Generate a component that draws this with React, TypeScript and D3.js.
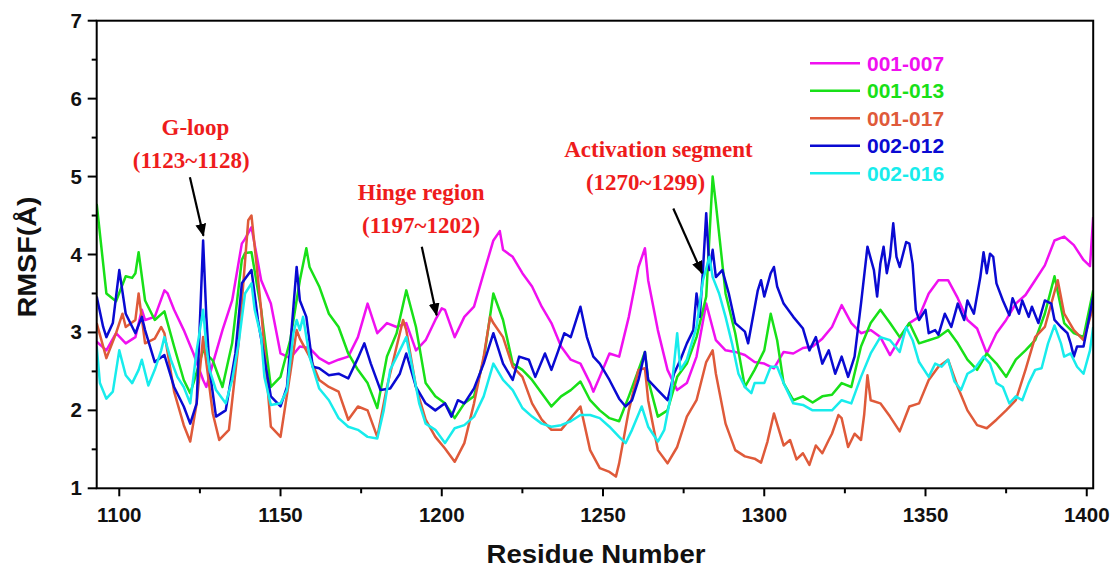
import React from "react";
import * as d3 from "d3";

type Pt = [number, number];

const seriesNames = ["001-007", "001-013", "001-017", "002-012", "002-016"];
const seriesColors = ["#f010f0", "#18e018", "#df5a3a", "#0a0ad2", "#18ecec"];

const s001_007: Pt[] = [[1093,2.88],[1096,2.77],[1099,2.99],[1102,2.86],[1105,2.94],[1107,3.29],[1108,3.16],[1111,3.2],[1114,3.54],[1115,3.5],[1117,3.29],[1120,3.03],[1123,2.73],[1126,2.39],[1127,2.3],[1129,2.6],[1132,3.03],[1135,3.41],[1138,4.14],[1139,4.2],[1141,4.35],[1144,3.67],[1147,3.37],[1150,2.73],[1153,2.67],[1156,2.82],[1159,2.8],[1162,2.67],[1165,2.6],[1168,2.65],[1171,2.69],[1174,2.94],[1177,3.37],[1180,2.99],[1183,3.12],[1186,3.07],[1189,3.12],[1192,2.77],[1195,2.9],[1198,3.16],[1200,3.31],[1201,3.29],[1204,2.94],[1207,3.2],[1210,3.33],[1213,3.76],[1216,4.18],[1218,4.3],[1219,4.06],[1222,3.97],[1225,3.76],[1228,3.59],[1231,3.33],[1234,3.12],[1237,2.82],[1240,2.65],[1243,2.6],[1246,2.35],[1247,2.24],[1249,2.43],[1252,2.73],[1255,2.69],[1258,3.2],[1261,3.84],[1263,4.08],[1264,3.67],[1267,3.03],[1270,2.52],[1273,2.26],[1276,2.35],[1279,2.69],[1282,3.37],[1285,2.9],[1288,2.77],[1291,2.75],[1294,2.71],[1297,2.62],[1300,2.6],[1303,2.54],[1306,2.75],[1309,2.73],[1312,2.8],[1315,2.82],[1318,2.92],[1321,3.07],[1324,3.35],[1327,3.12],[1330,2.99],[1333,3.03],[1336,2.94],[1339,2.71],[1342,2.92],[1345,3.12],[1348,3.2],[1351,3.5],[1354,3.67],[1357,3.67],[1360,3.44],[1363,3.16],[1366,3.05],[1369,2.73],[1372,2.99],[1375,3.16],[1378,3.37],[1381,3.48],[1384,3.67],[1387,3.86],[1390,4.18],[1393,4.23],[1396,4.12],[1399,3.93],[1401,3.85],[1402,4.48]];

const s001_013: Pt[] = [[1093,4.65],[1096,3.5],[1099,3.4],[1102,3.72],[1104,3.7],[1105,3.76],[1106,4.03],[1108,3.41],[1111,3.16],[1114,3.27],[1117,2.82],[1120,2.39],[1122,2.22],[1123,2.35],[1126,2.77],[1129,2.64],[1132,2.3],[1135,2.86],[1138,3.93],[1139,4.02],[1141,4.03],[1144,3.29],[1147,2.3],[1150,2.43],[1153,2.9],[1156,3.67],[1158,4.08],[1159,3.84],[1162,3.59],[1165,3.24],[1168,3.07],[1171,2.73],[1174,2.52],[1177,2.35],[1180,2.03],[1183,2.69],[1186,2.99],[1189,3.54],[1192,3.07],[1195,2.35],[1198,2.18],[1201,2.09],[1204,1.9],[1207,2.09],[1210,2.18],[1213,2.65],[1216,3.5],[1219,3.16],[1222,2.6],[1225,2.52],[1228,2.39],[1231,2.22],[1234,2.05],[1237,2.18],[1240,2.26],[1243,2.37],[1246,2.13],[1249,2.0],[1252,1.9],[1255,1.86],[1258,2.18],[1261,2.52],[1263,2.75],[1264,2.39],[1267,1.92],[1270,2.0],[1273,2.43],[1276,2.6],[1279,2.94],[1282,3.46],[1284,5.0],[1285,4.65],[1288,3.5],[1291,2.99],[1294,2.3],[1297,2.52],[1300,2.77],[1302,3.24],[1304,2.9],[1306,2.35],[1309,2.13],[1312,2.18],[1315,2.1],[1318,2.18],[1321,2.2],[1324,2.35],[1327,2.3],[1330,2.82],[1333,3.12],[1336,3.29],[1339,3.12],[1342,2.94],[1345,3.12],[1348,2.86],[1351,2.9],[1354,2.94],[1357,3.03],[1360,2.86],[1363,2.65],[1366,2.52],[1369,2.73],[1372,2.6],[1375,2.43],[1378,2.65],[1381,2.77],[1384,2.9],[1387,3.24],[1390,3.72],[1393,3.12],[1396,2.99],[1399,2.94],[1402,3.54]];

const s001_017: Pt[] = [[1093,3.12],[1096,2.67],[1099,2.99],[1101,3.24],[1102,3.07],[1105,3.16],[1106,3.5],[1108,2.86],[1111,2.92],[1113,3.07],[1114,2.99],[1117,2.24],[1120,1.81],[1122,1.6],[1124,2.09],[1126,2.94],[1129,1.96],[1131,1.62],[1134,1.75],[1137,2.86],[1140,4.44],[1141,4.5],[1144,3.29],[1147,1.79],[1150,1.66],[1153,2.47],[1155,3.03],[1156,2.92],[1159,2.69],[1162,2.39],[1165,2.3],[1168,2.24],[1171,1.88],[1174,2.05],[1177,2.0],[1180,1.66],[1183,2.3],[1186,2.82],[1188,3.16],[1189,3.03],[1192,2.3],[1195,1.88],[1198,1.66],[1201,1.51],[1204,1.34],[1207,1.58],[1210,2.09],[1213,2.69],[1215,3.2],[1216,3.12],[1219,2.94],[1222,2.56],[1225,2.43],[1228,2.09],[1231,1.88],[1234,1.75],[1237,1.75],[1240,1.9],[1243,2.05],[1246,1.49],[1249,1.26],[1252,1.21],[1254,1.15],[1255,1.32],[1258,2.0],[1261,2.52],[1263,2.54],[1264,2.13],[1267,1.49],[1270,1.32],[1273,1.53],[1276,1.92],[1279,2.13],[1282,2.62],[1284,2.77],[1285,2.47],[1288,1.83],[1291,1.49],[1294,1.41],[1297,1.38],[1299,1.33],[1301,1.6],[1303,1.96],[1306,1.55],[1308,1.62],[1310,1.37],[1312,1.45],[1314,1.3],[1316,1.55],[1318,1.45],[1320,1.62],[1321,1.7],[1323,1.94],[1324,1.9],[1326,1.53],[1328,1.7],[1330,1.62],[1331,1.95],[1332,2.45],[1333,2.13],[1336,2.09],[1339,1.92],[1342,1.73],[1345,2.05],[1348,2.09],[1351,2.39],[1354,2.56],[1357,2.65],[1360,2.3],[1363,2.0],[1366,1.81],[1369,1.77],[1372,1.88],[1375,2.0],[1378,2.13],[1381,2.52],[1384,2.94],[1387,3.07],[1391,3.67],[1393,3.24],[1396,3.03],[1399,2.9],[1402,3.33]];

const s002_012: Pt[] = [[1093,3.46],[1095,3.07],[1096,2.94],[1098,3.12],[1100,3.8],[1102,3.24],[1105,2.99],[1107,3.2],[1108,3.03],[1111,2.62],[1114,2.71],[1117,2.3],[1120,2.05],[1122,1.83],[1124,2.09],[1126,4.18],[1127,3.2],[1128,2.52],[1130,1.92],[1133,2.0],[1136,2.73],[1138,3.63],[1141,3.8],[1143,3.16],[1147,2.18],[1150,2.05],[1152,2.3],[1155,3.84],[1156,3.41],[1158,3.2],[1160,2.56],[1162,2.54],[1165,2.45],[1168,2.47],[1171,2.41],[1174,2.67],[1176,2.86],[1178,2.6],[1181,2.26],[1184,2.28],[1187,2.47],[1189,2.73],[1192,2.3],[1195,2.09],[1198,2.0],[1201,2.09],[1203,1.92],[1205,2.13],[1207,2.09],[1210,2.28],[1213,2.6],[1216,2.99],[1219,2.6],[1222,2.39],[1224,2.69],[1227,2.65],[1229,2.43],[1232,2.73],[1234,2.52],[1236,2.75],[1238,2.99],[1240,2.94],[1243,3.33],[1245,2.94],[1247,2.69],[1249,2.6],[1252,2.39],[1255,2.15],[1257,2.05],[1259,2.13],[1261,2.39],[1263,2.75],[1264,2.39],[1267,2.26],[1270,2.13],[1272,2.47],[1274,2.65],[1276,2.86],[1278,3.03],[1279,3.5],[1280,3.2],[1281,3.8],[1282,4.53],[1283,3.8],[1284,4.06],[1285,3.71],[1287,3.8],[1289,3.5],[1291,3.12],[1294,3.01],[1295,2.86],[1298,3.54],[1299,3.67],[1300,3.46],[1302,3.76],[1303,3.84],[1304,3.59],[1306,3.37],[1309,3.2],[1312,3.05],[1314,2.77],[1316,2.94],[1318,2.6],[1320,2.77],[1322,2.47],[1324,2.69],[1326,2.43],[1328,2.69],[1330,3.37],[1332,4.1],[1334,3.8],[1335,3.46],[1336,3.88],[1337,4.1],[1338,3.76],[1339,3.97],[1340,4.4],[1341,3.97],[1342,3.84],[1344,4.16],[1345,4.14],[1346,3.88],[1347,3.29],[1348,3.16],[1350,3.29],[1351,2.99],[1353,3.03],[1354,2.97],[1356,3.24],[1358,3.07],[1360,3.37],[1362,3.16],[1363,3.41],[1365,3.24],[1367,3.71],[1368,4.03],[1369,3.76],[1370,4.01],[1371,3.97],[1372,3.63],[1374,3.41],[1376,3.22],[1377,3.44],[1379,3.24],[1380,3.41],[1382,3.2],[1383,3.33],[1385,3.12],[1387,3.41],[1389,3.37],[1390,3.16],[1392,3.07],[1394,2.99],[1395,2.86],[1396,2.69],[1397,2.82],[1399,2.82],[1401,3.24],[1402,3.46]];

const s002_016: Pt[] = [[1093,2.82],[1094,2.35],[1096,2.15],[1098,2.24],[1100,2.77],[1102,2.45],[1104,2.35],[1106,2.52],[1107,2.65],[1109,2.32],[1111,2.52],[1113,2.77],[1114,2.94],[1116,2.65],[1118,2.43],[1120,2.3],[1122,2.09],[1124,2.77],[1126,3.29],[1127,2.82],[1128,2.52],[1130,2.26],[1133,2.09],[1135,2.39],[1137,2.86],[1139,3.5],[1141,3.63],[1142,3.29],[1144,2.94],[1145,2.43],[1147,2.07],[1150,2.09],[1152,2.26],[1154,2.99],[1155,3.16],[1156,3.03],[1157,3.2],[1159,2.69],[1162,2.28],[1165,2.13],[1168,1.9],[1171,1.79],[1174,1.75],[1177,1.66],[1180,1.64],[1182,2.0],[1184,2.52],[1187,2.77],[1189,2.94],[1191,2.52],[1193,2.09],[1195,1.83],[1198,1.75],[1201,1.58],[1204,1.77],[1207,1.81],[1210,1.92],[1213,2.18],[1216,2.6],[1219,2.39],[1222,2.26],[1225,2.03],[1228,1.92],[1231,1.83],[1234,1.79],[1237,1.81],[1240,1.86],[1243,1.94],[1246,1.94],[1249,1.9],[1252,1.79],[1255,1.66],[1257,1.58],[1259,1.75],[1262,2.05],[1264,1.79],[1267,1.6],[1269,1.75],[1271,2.18],[1273,2.99],[1274,2.52],[1276,2.65],[1279,3.07],[1281,3.67],[1283,3.97],[1284,3.71],[1286,3.5],[1288,3.2],[1290,2.86],[1292,2.47],[1294,2.3],[1296,2.22],[1297,2.35],[1300,2.35],[1302,2.56],[1304,2.56],[1306,2.35],[1309,2.09],[1312,2.07],[1315,2.0],[1318,2.0],[1321,2.0],[1324,2.13],[1327,2.09],[1330,2.43],[1333,2.73],[1336,2.94],[1339,2.9],[1342,2.75],[1344,3.07],[1346,2.9],[1348,2.62],[1351,2.43],[1353,2.6],[1355,2.56],[1357,2.65],[1359,2.37],[1361,2.26],[1363,2.47],[1365,2.52],[1368,2.69],[1370,2.6],[1372,2.35],[1374,2.3],[1376,2.09],[1378,2.18],[1380,2.13],[1382,2.35],[1384,2.52],[1386,2.54],[1388,2.86],[1390,3.09],[1392,2.86],[1393,2.69],[1395,2.73],[1397,2.56],[1399,2.47],[1401,2.77],[1402,3.07]];

const allSeries: Pt[][] = [s001_007, s001_013, s001_017, s002_012, s002_016];

const xTicksMajor = [1100, 1150, 1200, 1250, 1300, 1350, 1400];
const xTicksMinor = [1125, 1175, 1225, 1275, 1325, 1375];
const yTicksMajor = [1, 2, 3, 4, 5, 6, 7];
const yTicksMinor = [1.5, 2.5, 3.5, 4.5, 5.5, 6.5];

const annoLabels = [
  { l1: "G-loop", l2: "(1123~1128)", x1: 1123.6, x2: 1122.3, y1: 5.53, y2: 5.11, from: [1121.9, 4.99], to: [1126.1, 4.24] },
  { l1: "Hinge region", l2: "(1197~1202)", x1: 1193.6, x2: 1193.6, y1: 4.70, y2: 4.27, from: [1193.8, 4.10], to: [1198.4, 3.22] },
  { l1: "Activation segment", l2: "(1270~1299)", x1: 1267.2, x2: 1263.2, y1: 5.25, y2: 4.83, from: [1271.8, 4.59], to: [1280.7, 3.76] },
];

const W = 1118, H = 570;
const M = { left: 96.7, right: 1093.2, top: 20.7, bottom: 488.3 };

export default function App() {
  const x = d3.scaleLinear().domain([1093, 1402]).range([M.left, M.right]);
  const y = d3.scaleLinear().domain([1, 7]).range([M.bottom, M.top]);
  const line = d3.line<Pt>().x((d) => x(d[0])).y((d) => y(d[1]));
  const sans = "'Liberation Sans', Arial, sans-serif";
  const serif = "'Liberation Serif', 'Times New Roman', serif";
  const red = "#ee1c1c";

  return (
    <svg width={W} height={H} style={{ position: "absolute", left: 0, top: 0, background: "#fff" }}>
      <defs>
        <marker id="ah2" viewBox="0 0 12 10" refX="11" refY="5" markerWidth="13" markerHeight="11" orient="auto" markerUnits="userSpaceOnUse">
          <path d="M0,0 L12,5 L0,10 z" fill="#000" />
        </marker>
        <clipPath id="plot">
          <rect x={M.left} y={M.top} width={M.right - M.left} height={M.bottom - M.top} />
        </clipPath>
      </defs>
      <rect x={0} y={0} width={W} height={H} fill="#fff" />

      <g clipPath="url(#plot)">
        {allSeries.map((s, i) => (
          <path key={i} d={line(s) || ""} fill="none" stroke={seriesColors[i]} strokeWidth={2.5} strokeLinejoin="round" />
        ))}
      </g>

      <rect x={M.left} y={M.top} width={M.right - M.left} height={M.bottom - M.top} fill="none" stroke="#000" strokeWidth={2} />

      {xTicksMajor.map((t) => (
        <g key={"xm" + t}>
          <line x1={x(t)} x2={x(t)} y1={M.bottom} y2={M.bottom + 8} stroke="#000" strokeWidth={2} />
          <text x={x(t)} y={521.5} textAnchor="middle" fontFamily={sans} fontWeight="bold" fontSize={20.5} fill="#111">{t}</text>
        </g>
      ))}
      {xTicksMinor.map((t) => (
        <line key={"xn" + t} x1={x(t)} x2={x(t)} y1={M.bottom} y2={M.bottom + 5} stroke="#000" strokeWidth={2} />
      ))}

      {yTicksMajor.map((t) => (
        <g key={"ym" + t}>
          <line x1={M.left - 9} x2={M.left} y1={y(t)} y2={y(t)} stroke="#000" strokeWidth={2} />
          <text x={82} y={y(t) + 7} textAnchor="end" fontFamily={sans} fontWeight="bold" fontSize={20.5} fill="#111">{t}</text>
        </g>
      ))}
      {yTicksMinor.map((t) => (
        <line key={"yn" + t} x1={M.left - 5} x2={M.left} y1={y(t)} y2={y(t)} stroke="#000" strokeWidth={2} />
      ))}

      <text x={596} y={563} textAnchor="middle" fontFamily={sans} fontWeight="bold" fontSize={25} textLength={219} lengthAdjust="spacingAndGlyphs" fill="#111">Residue Number</text>
      <text transform="translate(36,257) rotate(-90)" textAnchor="middle" fontFamily={sans} fontWeight="bold" fontSize={25} textLength={121} lengthAdjust="spacingAndGlyphs" fill="#111">RMSF(Å)</text>

      {annoLabels.map((a, i) => (
        <g key={"a" + i}>
          <text x={x(a.x1)} y={y(a.y1)} textAnchor="middle" fontFamily={serif} fontWeight="bold" fontSize={23} fill={red}>{a.l1}</text>
          <text x={x(a.x2)} y={y(a.y2)} textAnchor="middle" fontFamily={serif} fontWeight="bold" fontSize={23} fill={red}>{a.l2}</text>
          <line x1={x(a.from[0])} y1={y(a.from[1])} x2={x(a.to[0])} y2={y(a.to[1])} stroke="#000" strokeWidth={2.2} markerEnd="url(#ah2)" />
        </g>
      ))}

      {seriesNames.map((n, i) => {
        const ly = 63.3 + i * 27.5;
        return (
          <g key={"l" + i}>
            <line x1={810} x2={860} y1={ly} y2={ly} stroke={seriesColors[i]} strokeWidth={2.5} />
            <text x={867} y={ly + 7.5} fontFamily={sans} fontWeight="bold" fontSize={21} fill={seriesColors[i]}>{n}</text>
          </g>
        );
      })}
    </svg>
  );
}
